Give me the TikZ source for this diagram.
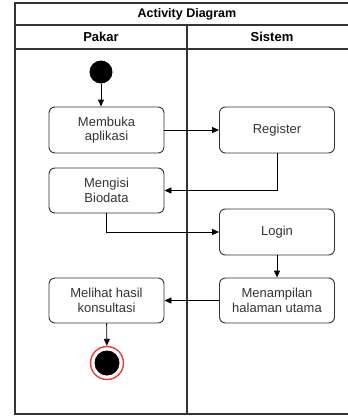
\documentclass[tikz,border=0pt]{standalone}
\usepackage{fontspec}
\setmainfont{Liberation Sans}
\usetikzlibrary{positioning,arrows.meta}

\definecolor{linegray}{HTML}{333333}
\definecolor{endred}{HTML}{FF3333}

\tikzset{
  act/.style={draw=linegray, rectangle, rounded corners=6pt, line width=0.9pt,
    minimum width=115pt, minimum height=46pt, align=center, text=linegray,
    font=\fontsize{13}{14.5}\selectfont, inner sep=1pt},
  flow/.style={-{Triangle[length=7pt,width=6pt]}, line width=0.9pt, draw=black},
  lane/.style={line width=1.3pt, draw=linegray}
}

\begin{document}
\begin{tikzpicture}[x=1pt, y=-1pt]
        \useasboundingbox (0,0) rectangle (348,416);
        % swimlane frame
        \draw[lane] (15,3) rectangle (358,414);
        \draw[lane] (15,25) -- (358,25);
        \draw[lane] (15,49) -- (358,49);
        \draw[lane] (187,25) -- (187,414);
        \node[font=\bfseries\fontsize{12.5}{14}\selectfont] (title) at (187,14) {Activity Diagram};
        \node[font=\bfseries\fontsize{13}{14}\selectfont] (pakar) at (101,37) {Pakar};
        \node[font=\bfseries\fontsize{13}{14}\selectfont] (sistem) at (272,37) {Sistem};

        % activities
        \node[circle, fill=black, minimum size=23pt, inner sep=0pt] (start) at (101,72) {};
        \node[act] (membuka) at (106.5,130) {Membuka\\aplikasi};
        \node[act] (register) at (277,130) {Register};
        \node[act, minimum height=45pt] (mengisi) at (106.5,190.5) {Mengisi\\Biodata};
        \node[act] (login) at (277,232) {Login};
        \node[act, minimum height=45pt] (menampilan) at (277,300.5) {Menampilan\\halaman utama};
        \node[act, minimum height=45pt] (melihat) at (106.5,300.5) {Melihat hasil\\konsultasi};
        \node[circle, draw=endred, line width=1.4pt, fill=white, minimum size=33pt, inner sep=0pt] (end) at (107,363) {};
        \node[circle, fill=black, minimum size=25pt, inner sep=0pt] (endin) at (end) {};

        % flows
        \draw[flow] (start) -- (start |- membuka.north);
        \draw[flow] (membuka) -- (register);
        \draw[flow] (register.south) |- (mengisi.east);
        \draw[flow] (mengisi.south) |- (login.west);
        \draw[flow] (login) -- (menampilan);
        \draw[flow] (menampilan) -- (melihat);
        \draw[flow] (melihat) -- (end);
    \end{tikzpicture}
\end{document}
